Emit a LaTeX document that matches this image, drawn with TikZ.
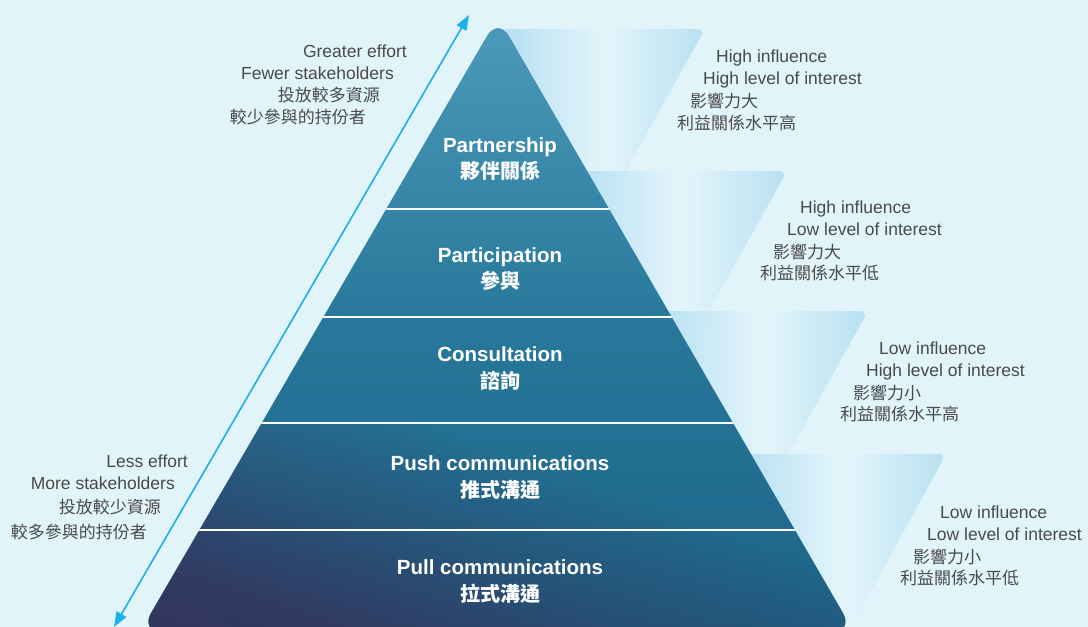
\documentclass[tikz,border=0pt]{standalone}
\usepackage{fontspec}
\setmainfont{Liberation Sans}
\newfontfamily\cjk{Noto Sans CJK TC}
\usetikzlibrary{arrows.meta,fadings}

\definecolor{bgcyan}{HTML}{E0F4FA}
\definecolor{notegrey}{HTML}{4A4A4A}
\definecolor{arrowcyan}{HTML}{1CB0E6}
\definecolor{pyrtop}{HTML}{4D9ABB}
\definecolor{pyrmid}{HTML}{27789A}
\definecolor{pyrbot}{HTML}{1D6488}
\definecolor{pyrnavy}{HTML}{35325A}
\definecolor{veilblue}{HTML}{B3DFF2}
\definecolor{veillight}{HTML}{E4F5FB}

\pgfdeclarehorizontalshading{navyramp}{100bp}{color(0bp)=(white); color(25bp)=(white!85!black); color(45bp)=(white!35!black); color(62bp)=(black); color(100bp)=(black)}
\pgfdeclarefading{navyfade}{\pgfuseshading{navyramp}}

\tikzset{
  note/.style={text=notegrey, font=\fontsize{17.5}{20}\selectfont, inner sep=0pt, anchor=base west},
  notezh/.style={note, font=\cjk\fontsize{17}{20}\selectfont},
  leftnote/.style={note, anchor=base east},
  leftnotezh/.style={notezh, anchor=base east},
  tier/.style={text=white, font=\bfseries\fontsize{20.5}{24}\selectfont, inner sep=0pt, anchor=base},
  tierzh/.style={tier, font=\cjk\bfseries\fontsize{20}{24}\selectfont},
  veil/.style={left color=veilblue, right color=veilblue, middle color=veillight, opacity=0.9},
  bandline/.style={white, line width=2.4pt},
  effortarrow/.style={arrowcyan, line width=1.6pt, {Triangle[length=15pt,width=11pt]}-{Triangle[length=15pt,width=11pt]}}
}

\begin{document}
\begin{tikzpicture}[x=1pt,y=-1pt]
\fill[bgcyan] (0,0) rectangle (1088,627);
\useasboundingbox (0,0) rectangle (1088,627);
\clip (0,0) rectangle (1088,627);

\shade[veil] (505,29) [rounded corners=8pt] -- (705,29) [sharp corners] -- (607,205) -- cycle;
\shade[veil] (577,171) [rounded corners=8pt] -- (787,171) [sharp corners] -- (689,347) -- (679,347) -- cycle;
\shade[veil] (658,311) [rounded corners=8pt] -- (868,311) [sharp corners] -- (770,487) -- (760,487) -- cycle;
\shade[veil] (741,454) [rounded corners=8pt] -- (946,454) [sharp corners] -- (850,630) -- (840,630) -- cycle;

\begin{scope}
\clip[rounded corners=22pt] (498,17) -- (854,632) -- (140,632) -- cycle;
\shade[top color=pyrtop, bottom color=pyrbot, middle color=pyrmid] (140,17) rectangle (854,632);
\fill[pyrnavy, path fading=navyfade, fading angle=40] (140,423) rectangle (854,632);
\draw[bandline] (0,209) -- (1088,209);
\draw[bandline] (0,317) -- (1088,317);
\draw[bandline] (0,423) -- (1088,423);
\draw[bandline] (0,530) -- (1088,530);
\end{scope}

\coordinate (efforttop) at (469,15);
\coordinate (effortbot) at (114,627);
\draw[effortarrow] (effortbot) -- (efforttop);

\node[tier] (partner) at (500,152) {Partnership};
\node[tierzh] (partnerzh) at (500,178) {夥伴關係};
\node[tier] (particip) at (500,262) {Participation};
\node[tierzh] (participzh) at (500,288) {參與};
\node[tier] (consult) at (500,361) {Consultation};
\node[tierzh] (consultzh) at (500,388) {諮詢};
\node[tier] (push) at (500,470) {Push communications};
\node[tierzh] (pushzh) at (500,497) {推式溝通};
\node[tier] (pull) at (500,574) {Pull communications};
\node[tierzh] (pullzh) at (500,601) {拉式溝通};

\node[note] (inflA) at (716,62) {High influence};
\node[note] (intrA) at (703,84) {High level of interest};
\node[notezh] (inflzhA) at (690,107) {影響力大};
\node[notezh] (intrzhA) at (677,129) {利益關係水平高};

\node[note] (inflB) at (800,213) {High influence};
\node[note] (intrB) at (787,235) {Low level of interest};
\node[notezh] (inflzhB) at (773,258) {影響力大};
\node[notezh] (intrzhB) at (760,279) {利益關係水平低};

\node[note] (inflC) at (879,354) {Low influence};
\node[note] (intrC) at (866,376) {High level of interest};
\node[notezh] (inflzhC) at (853,399) {影響力小};
\node[notezh] (intrzhC) at (840,420) {利益關係水平高};

\node[note] (inflD) at (940,518) {Low influence};
\node[note] (intrD) at (927,540) {Low level of interest};
\node[notezh] (inflzhD) at (913,563) {影響力小};
\node[notezh] (intrzhD) at (900,584) {利益關係水平低};

\node[leftnote] (effortG) at (407,57) {Greater effort};
\node[leftnote] (stakeF) at (394,79) {Fewer stakeholders};
\node[leftnotezh] (effortGzh) at (380,101) {投放較多資源};
\node[leftnotezh] (stakeFzh) at (366,123) {較少參與的持份者};

\node[leftnote] (effortL) at (188,467) {Less effort};
\node[leftnote] (stakeM) at (175,489) {More stakeholders};
\node[leftnotezh] (effortLzh) at (161,513) {投放較少資源};
\node[leftnotezh] (stakeMzh) at (147,538) {較多參與的持份者};
\end{tikzpicture}
\end{document}
